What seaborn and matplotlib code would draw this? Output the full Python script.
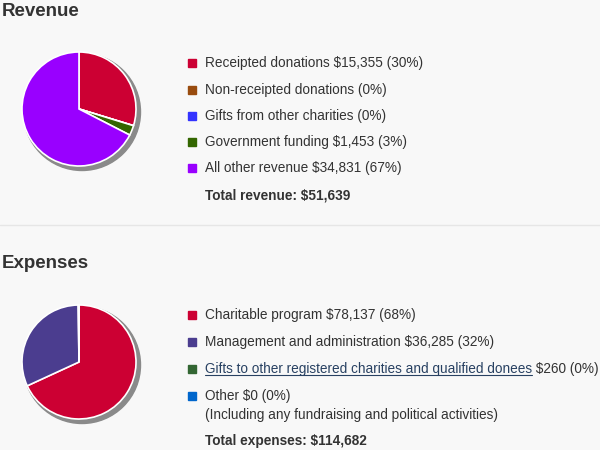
import matplotlib
matplotlib.use("Agg")
import matplotlib.pyplot as plt
from matplotlib.patches import Circle, Rectangle
import seaborn as sns

# data
rev_names = ["Receipted donations", "Non-receipted donations", "Gifts from other charities",
             "Government funding", "All other revenue"]
rev_values = [15355, 0, 0, 1453, 34831]
rev_labels = ["Receipted donations $15,355 (30%)", "Non-receipted donations (0%)",
              "Gifts from other charities (0%)", "Government funding $1,453 (3%)",
              "All other revenue $34,831 (67%)"]
rev_colors = ["#cc0033", "#994c0f", "#3333ff", "#336600", "#9900ff"]
rev_total = "Total revenue: $51,639"

exp_names = ["Charitable program", "Management and administration",
             "Gifts to other registered charities and qualified donees", "Other"]
exp_values = [78137, 36285, 260, 0]
exp_labels = ["Charitable program $78,137 (68%)", "Management and administration $36,285 (32%)",
              "Gifts to other registered charities and qualified donees", "Other $0 (0%)"]
exp_colors = ["#cc0033", "#4b3d8f", "#336633", "#0066cc"]
exp_gift_tail = " $260 (0%)"
exp_other_note = "(Including any fundraising and political activities)"
exp_total = "Total expenses: $114,682"

sns.set_theme(style="white")
plt.rcParams['font.family'] = ['Liberation Sans', 'DejaVu Sans']

BG = "#f8f8f8"
TXT = "#333333"
LINK = "#284162"
W, H = 600, 450

fig = plt.figure(figsize=(6, 4.5), dpi=100)
fig.patch.set_facecolor(BG)

# overlay axes in pixel coordinates for text
ov = fig.add_axes([0, 0, 1, 1])
ov.set_xlim(0, W)
ov.set_ylim(H, 0)
ov.axis("off")
ov.patch.set_alpha(0)


def draw_pie(cx, cy, r, values, colors):
    box = 140
    ax = fig.add_axes([(cx - box / 2) / W, (H - cy - box / 2) / H, box / W, box / H])
    ax.set_aspect("equal")
    ax.axis("off")
    ax.add_patch(Circle((3, -3), r + 1.5, color="#8a8a8a", zorder=0))
    ax.pie(values, colors=colors, radius=r, startangle=90, counterclock=False,
           wedgeprops=dict(edgecolor="white", linewidth=1.2), frame=False)
    ax.set_xlim(-box / 2, box / 2)
    ax.set_ylim(-box / 2, box / 2)
    return ax


draw_pie(79, 109, 57, rev_values, rev_colors)
draw_pie(79, 362, 57, exp_values, exp_colors)

FS = 9.8
ov.text(2, 11, "Revenue", fontsize=13.5, fontweight="bold", color=TXT, va="center")
ov.text(2, 263, "Expenses", fontsize=13.5, fontweight="bold", color=TXT, va="center")
ov.plot([0, W], [225, 225], color="#e6e6e6", lw=1)


def legend_row(y, color, label, text_color=TXT):
    ov.add_patch(Rectangle((188, y - 4), 8, 8, color=color))
    return ov.text(205, y, label, fontsize=FS, color=text_color, va="center")


rev_y = [63, 90, 116, 142, 168]
for y, c, lab in zip(rev_y, rev_colors, rev_labels):
    legend_row(y, c, lab)
ov.text(205, 195, rev_total, fontsize=FS, fontweight="bold", color=TXT, va="center")

exp_y = [315, 342, 369, 396]
texts = []
for y, c, lab in zip(exp_y, exp_colors, exp_labels):
    texts.append(legend_row(y, c, lab, LINK if lab == exp_names[2] else TXT))
link = texts[2]
ov.annotate(exp_gift_tail, xy=(1, 0.5), xycoords=link, va="center", fontsize=FS, color=TXT)
ov.text(205, 415, exp_other_note, fontsize=FS, color=TXT, va="center")
ov.text(205, 441, exp_total, fontsize=FS, fontweight="bold", color=TXT, va="center")

# underline the link text
fig.canvas.draw()
bb = link.get_window_extent().transformed(ov.transData.inverted())
ov.plot([bb.x0, bb.x1], [375, 375], color=LINK, lw=0.8)

fig.savefig("out.png", dpi=100, facecolor=BG)
